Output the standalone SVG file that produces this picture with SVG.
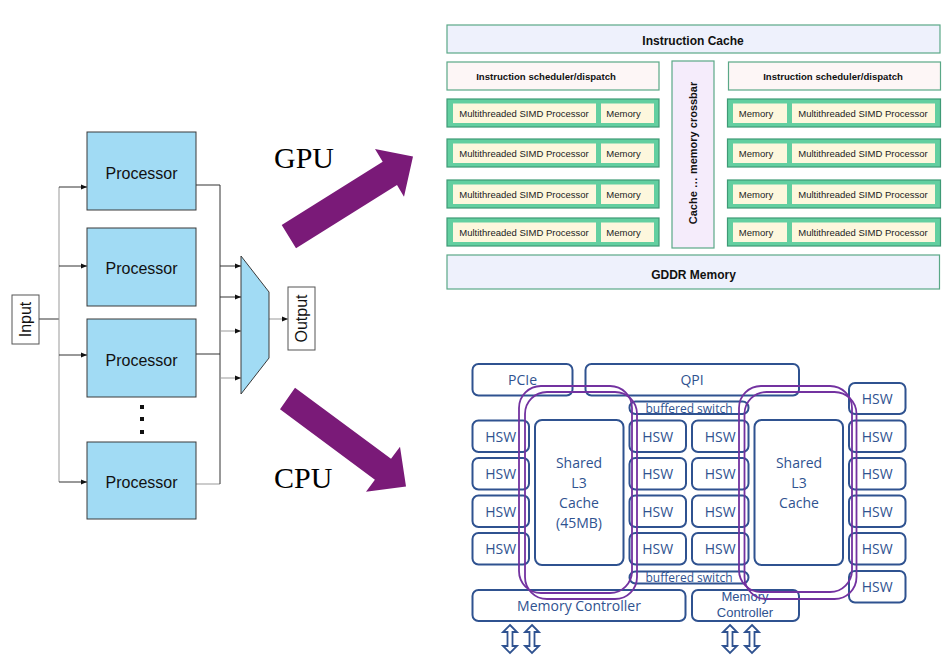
<svg xmlns="http://www.w3.org/2000/svg" width="949" height="657" viewBox="0 0 949 657">
<defs>
<style>
.proc{fill:#A1DBF4;stroke:#3a3a3a;stroke-width:1}
.ptxt{font-family:"Liberation Sans",Arial,sans-serif;font-size:16px;fill:#111;text-anchor:middle}
.wire{fill:none;stroke:#333;stroke-width:1}
.wireg{fill:none;stroke:#999;stroke-width:1}
.io{fill:#fff;stroke:#555;stroke-width:1}
.big{font-family:"Liberation Serif","Times New Roman",serif;font-size:30px;fill:#000}
.thick{fill:#7A1A78}
.gbox{stroke:#5AA887;stroke-width:1.2}
.gb{font-family:"Liberation Sans",Arial,sans-serif;font-weight:bold;fill:#111;text-anchor:middle}
.row{fill:#63CFA0;stroke:#3E9A75;stroke-width:1.2}
.cell{fill:#FDF7DD}
.st{font-family:"Liberation Sans",Arial,sans-serif;font-size:9.5px;fill:#222;text-anchor:middle}
.cb{fill:#fff;stroke:#2F5290;stroke-width:2}
.ct{font-family:"Open Sans","Liberation Sans",sans-serif;font-size:14px;fill:#2F5290;text-anchor:middle}
.cm{font-family:"Liberation Sans",sans-serif;font-size:13px;fill:#2F5290;text-anchor:middle}
.cs{font-family:"Open Sans","Liberation Sans",sans-serif;font-size:12px;fill:#2F5290;text-anchor:middle}
.ring{fill:none;stroke:#7332A0;stroke-width:1.8}
.dar{fill:#fff;stroke:#2F5290;stroke-width:1.8;stroke-linejoin:miter}
</style>
<marker id="ah" viewBox="0 0 6 6" refX="6" refY="3" markerWidth="6" markerHeight="6" markerUnits="userSpaceOnUse" orient="auto">
<path d="M0,0.5 L6,3 L0,5.5 Z" fill="#111"/>
</marker>
</defs>
<rect width="949" height="657" fill="#fff"/>

<!-- connectors (left block diagram) -->
<g id="connectors">
<line class="wire" x1="39" y1="319" x2="59" y2="319"/>
<line class="wireg" x1="59" y1="187" x2="59" y2="482"/>
<line class="wire" x1="59" y1="187" x2="87" y2="187" marker-end="url(#ah)"/>
<line class="wire" x1="59" y1="266" x2="87" y2="266" marker-end="url(#ah)"/>
<line class="wire" x1="59" y1="355" x2="87" y2="355" marker-end="url(#ah)"/>
<line class="wire" x1="59" y1="482" x2="87" y2="482" marker-end="url(#ah)"/>
<line class="wire" x1="196" y1="185" x2="220" y2="185"/>
<line class="wire" x1="196" y1="354" x2="220" y2="354"/>
<line class="wireg" x1="196" y1="484" x2="220" y2="484"/>
<line class="wire" x1="220" y1="185" x2="220" y2="484"/>
<line class="wire" x1="220" y1="266" x2="241" y2="266" marker-end="url(#ah)"/>
<line class="wire" x1="220" y1="297" x2="241" y2="297" marker-end="url(#ah)"/>
<line class="wireg" x1="220" y1="331" x2="241" y2="331" marker-end="url(#ah)"/>
<line class="wireg" x1="220" y1="378" x2="241" y2="378" marker-end="url(#ah)"/>
<line class="wireg" x1="269" y1="319" x2="288" y2="319" marker-end="url(#ah)"/>
</g>

<g id="input">
<rect class="io" x="12" y="295" width="27" height="49"/>
<text class="ptxt" transform="translate(31,319.5) rotate(-90)">Input</text>
</g>
<g id="processor1"><rect class="proc" x="87" y="132" width="109" height="78"/><text class="ptxt" x="141.5" y="179">Processor</text></g>
<g id="processor2"><rect class="proc" x="87" y="228" width="109" height="78"/><text class="ptxt" x="141.5" y="274">Processor</text></g>
<g id="processor3"><rect class="proc" x="87" y="319" width="109" height="78"/><text class="ptxt" x="141.5" y="366">Processor</text></g>
<g id="dots" fill="#111">
<rect x="140" y="405" width="4" height="4"/><rect x="140" y="417" width="4" height="4"/><rect x="140" y="430" width="4" height="4"/>
</g>
<g id="processor4"><rect class="proc" x="87" y="442" width="109" height="77"/><text class="ptxt" x="141.5" y="488">Processor</text></g>
<g id="mux"><polygon class="proc" points="241,256 269,292 269,358 241,394"/></g>
<g id="output">
<rect class="io" x="288" y="287" width="27" height="63"/>
<text class="ptxt" transform="translate(307,318.5) rotate(-90)">Output</text>
</g>

<g id="gpu-arrow">
<text class="big" x="274" y="168">GPU</text>
<polygon class="thick" points="281.7,225 382.7,161.7 375,149 413,156.5 404,196.7 397,185 296,248.3"/>
</g>
<g id="cpu-arrow">
<text class="big" x="274" y="488">CPU</text>
<polygon class="thick" points="295,387.7 391,458.7 400,446.7 406,486.5 366,491.7 374.9,479.7 280,409.3"/>
</g>

<!-- GPU -->
<g id="gpu">
<g id="instruction-cache"><rect class="gbox" x="447" y="25" width="493" height="28" fill="#EEF1FC"/><text class="gb" font-size="12" x="693" y="45">Instruction Cache</text></g>
<g id="scheduler-left"><rect class="gbox" x="447" y="62" width="212" height="28" fill="#FDF6F6"/><text class="gb" font-size="9.6" x="546" y="80">Instruction scheduler/dispatch</text></g>
<g id="scheduler-right"><rect class="gbox" x="728.5" y="62" width="212" height="28" fill="#FDF6F6"/><text class="gb" font-size="9.6" x="833" y="80">Instruction scheduler/dispatch</text></g>
<g id="crossbar"><rect class="gbox" x="672" y="61" width="42" height="187" fill="#F5ECFB"/><text class="gb" font-size="11" transform="translate(697,153) rotate(-90)">Cache … memory crossbar</text></g>
<g id="gddr"><rect class="gbox" x="447" y="255" width="492.5" height="34" fill="#EEF1FC"/><text class="gb" font-size="12" x="693.5" y="279">GDDR Memory</text></g>

<g id="simd-l1"><rect class="row" x="447" y="99" width="212" height="28"/><rect class="cell" x="453" y="103.5" width="143" height="19.5"/><rect class="cell" x="601" y="103.5" width="53" height="19.5"/><text class="st" x="524" y="116.5">Multithreaded SIMD Processor</text><text class="st" x="623.5" y="116.5">Memory</text></g>
<g id="simd-l2"><rect class="row" x="447" y="139" width="212" height="28"/><rect class="cell" x="453" y="143.5" width="143" height="19.5"/><rect class="cell" x="601" y="143.5" width="53" height="19.5"/><text class="st" x="524" y="156.5">Multithreaded SIMD Processor</text><text class="st" x="623.5" y="156.5">Memory</text></g>
<g id="simd-l3"><rect class="row" x="447" y="180" width="212" height="28"/><rect class="cell" x="453" y="184.5" width="143" height="19.5"/><rect class="cell" x="601" y="184.5" width="53" height="19.5"/><text class="st" x="524" y="197.5">Multithreaded SIMD Processor</text><text class="st" x="623.5" y="197.5">Memory</text></g>
<g id="simd-l4"><rect class="row" x="447" y="218" width="212" height="28"/><rect class="cell" x="453" y="222.5" width="143" height="19.5"/><rect class="cell" x="601" y="222.5" width="53" height="19.5"/><text class="st" x="524" y="235.5">Multithreaded SIMD Processor</text><text class="st" x="623.5" y="235.5">Memory</text></g>

<g id="simd-r1"><rect class="row" x="727.5" y="99" width="213" height="28"/><rect class="cell" x="733" y="103.5" width="54" height="19.5"/><rect class="cell" x="792" y="103.5" width="143" height="19.5"/><text class="st" x="756" y="116.5">Memory</text><text class="st" x="863" y="116.5">Multithreaded SIMD Processor</text></g>
<g id="simd-r2"><rect class="row" x="727.5" y="139" width="213" height="28"/><rect class="cell" x="733" y="143.5" width="54" height="19.5"/><rect class="cell" x="792" y="143.5" width="143" height="19.5"/><text class="st" x="756" y="156.5">Memory</text><text class="st" x="863" y="156.5">Multithreaded SIMD Processor</text></g>
<g id="simd-r3"><rect class="row" x="727.5" y="180" width="213" height="28"/><rect class="cell" x="733" y="184.5" width="54" height="19.5"/><rect class="cell" x="792" y="184.5" width="143" height="19.5"/><text class="st" x="756" y="197.5">Memory</text><text class="st" x="863" y="197.5">Multithreaded SIMD Processor</text></g>
<g id="simd-r4"><rect class="row" x="727.5" y="218" width="213" height="28"/><rect class="cell" x="733" y="222.5" width="54" height="19.5"/><rect class="cell" x="792" y="222.5" width="143" height="19.5"/><text class="st" x="756" y="235.5">Memory</text><text class="st" x="863" y="235.5">Multithreaded SIMD Processor</text></g>
</g>

<!-- CPU -->
<g id="cpu">
<g id="pcie"><rect class="cb" x="472.5" y="364" width="100" height="31.5" rx="6"/><text class="ct" x="522.5" y="385">PCIe</text></g>
<g id="qpi"><rect class="cb" x="585.5" y="364" width="213.5" height="31.5" rx="6"/><text class="ct" x="692" y="385">QPI</text></g>
<g id="switch-top"><rect class="cb" x="629.5" y="401.5" width="119" height="12.5" rx="6" stroke-width="1.6"/><text class="cs" x="689" y="412.5">buffered switch</text></g>
<g id="switch-bottom"><rect class="cb" x="629.5" y="571.5" width="119" height="12" rx="6" stroke-width="1.6"/><text class="cs" x="689" y="582">buffered switch</text></g>

<g id="l3-left"><rect class="cb" x="535" y="420" width="88.5" height="145" rx="7"/>
<text class="ct" x="579" y="468">Shared</text><text class="ct" x="579" y="488">L3</text><text class="ct" x="579" y="508">Cache</text><text class="ct" x="579" y="528">(45MB)</text></g>
<g id="l3-right"><rect class="cb" x="754.5" y="420" width="88.5" height="145" rx="7"/>
<text class="ct" x="799" y="468">Shared</text><text class="ct" x="799" y="488">L3</text><text class="ct" x="799" y="508">Cache</text></g>

<g id="hsw-a1"><rect class="cb" x="472.5" y="420.5" width="56.5" height="31.5" rx="6"/><text class="ct" x="500.7" y="441.5">HSW</text></g>
<g id="hsw-a2"><rect class="cb" x="472.5" y="458" width="56.5" height="31.5" rx="6"/><text class="ct" x="500.7" y="479">HSW</text></g>
<g id="hsw-a3"><rect class="cb" x="472.5" y="495.5" width="56.5" height="31.5" rx="6"/><text class="ct" x="500.7" y="516.5">HSW</text></g>
<g id="hsw-a4"><rect class="cb" x="472.5" y="533" width="56.5" height="31.5" rx="6"/><text class="ct" x="500.7" y="554">HSW</text></g>

<g id="hsw-b1"><rect class="cb" x="629.5" y="420.5" width="56.5" height="31.5" rx="6"/><text class="ct" x="657.7" y="441.5">HSW</text></g>
<g id="hsw-b2"><rect class="cb" x="629.5" y="458" width="56.5" height="31.5" rx="6"/><text class="ct" x="657.7" y="479">HSW</text></g>
<g id="hsw-b3"><rect class="cb" x="629.5" y="495.5" width="56.5" height="31.5" rx="6"/><text class="ct" x="657.7" y="516.5">HSW</text></g>
<g id="hsw-b4"><rect class="cb" x="629.5" y="533" width="56.5" height="31.5" rx="6"/><text class="ct" x="657.7" y="554">HSW</text></g>

<g id="hsw-c1"><rect class="cb" x="692" y="420.5" width="56.5" height="31.5" rx="6"/><text class="ct" x="720.2" y="441.5">HSW</text></g>
<g id="hsw-c2"><rect class="cb" x="692" y="458" width="56.5" height="31.5" rx="6"/><text class="ct" x="720.2" y="479">HSW</text></g>
<g id="hsw-c3"><rect class="cb" x="692" y="495.5" width="56.5" height="31.5" rx="6"/><text class="ct" x="720.2" y="516.5">HSW</text></g>
<g id="hsw-c4"><rect class="cb" x="692" y="533" width="56.5" height="31.5" rx="6"/><text class="ct" x="720.2" y="554">HSW</text></g>

<g id="hsw-d0"><rect class="cb" x="849" y="383" width="56.5" height="31" rx="6"/><text class="ct" x="877.2" y="404">HSW</text></g>
<g id="hsw-d1"><rect class="cb" x="849" y="420.5" width="56.5" height="31.5" rx="6"/><text class="ct" x="877.2" y="441.5">HSW</text></g>
<g id="hsw-d2"><rect class="cb" x="849" y="458" width="56.5" height="31.5" rx="6"/><text class="ct" x="877.2" y="479">HSW</text></g>
<g id="hsw-d3"><rect class="cb" x="849" y="495.5" width="56.5" height="31.5" rx="6"/><text class="ct" x="877.2" y="516.5">HSW</text></g>
<g id="hsw-d4"><rect class="cb" x="849" y="533" width="56.5" height="31.5" rx="6"/><text class="ct" x="877.2" y="554">HSW</text></g>
<g id="hsw-d5"><rect class="cb" x="849" y="571" width="56.5" height="31.5" rx="6"/><text class="ct" x="877.2" y="592">HSW</text></g>

<g id="memctl-left"><rect class="cb" x="472.5" y="590" width="213" height="31" rx="6"/><text class="ct" x="579" y="611">Memory Controller</text></g>
<g id="memctl-right"><rect class="cb" x="692" y="590" width="107" height="31" rx="6"/><text class="cm" x="745" y="601">Memory</text><text class="cm" x="745" y="617">Controller</text></g>

<g id="rings">
<rect class="ring" x="519" y="386" width="113" height="207" rx="22"/>
<rect class="ring" x="525" y="392" width="112" height="207" rx="22"/>
<rect class="ring" x="739" y="386" width="113" height="206" rx="22"/>
<rect class="ring" x="744.5" y="392" width="112" height="207" rx="22"/>
</g>

<g id="io-arrows">
<polygon class="dar" points="510,625 517,632 512.5,632 512.5,646 517,646 510,653 503,646 507.5,646 507.5,632 503,632"/>
<polygon class="dar" points="532,625 539,632 534.5,632 534.5,646 539,646 532,653 525,646 529.5,646 529.5,632 525,632"/>
<polygon class="dar" points="730,625 737,632 732.5,632 732.5,646 737,646 730,653 723,646 727.5,646 727.5,632 723,632"/>
<polygon class="dar" points="752,625 759,632 754.5,632 754.5,646 759,646 752,653 745,646 749.5,646 749.5,632 745,632"/>
</g>
</g>
</svg>
